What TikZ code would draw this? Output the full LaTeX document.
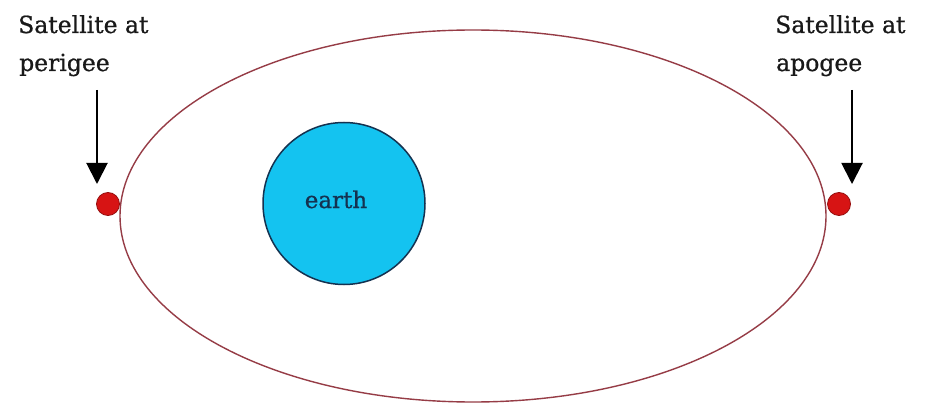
\documentclass[tikz,border=0pt]{standalone}
\usepackage{fontspec}
\setmainfont{DejaVu Serif}
\newfontfamily\lblfont{DejaVu Serif}[FakeBold=0.8]
\usetikzlibrary{arrows.meta}
\definecolor{orbit}{RGB}{150,60,70}
\definecolor{earthblue}{RGB}{20,195,240}
\definecolor{earthline}{RGB}{20,50,80}
\definecolor{satred}{RGB}{215,20,20}
\begin{document}
\begin{tikzpicture}[x=1pt,y=-1pt,
  lbl/.style={anchor=base west,inner sep=0pt,font=\lblfont\fontsize{23.5}{28}\selectfont,text=black!90},
  pointer/.style={line width=2pt,-{Triangle[width=21pt,length=21pt]}},
  sat/.style={circle,fill=satred,draw=satred!70!black,line width=0.8pt,minimum size=23pt,inner sep=0pt},
  ]
\useasboundingbox[fill=white] (0,0) rectangle (926,406);
\draw[orbit,line width=1.4pt] (473,216) ellipse [x radius=353,y radius=186];
\node[circle,fill=earthblue,draw=earthline,line width=1.5pt,minimum size=162pt,inner sep=0pt] (earth) at (344,203.5) {};
\node[anchor=base,inner sep=0pt,font=\lblfont\fontsize{23}{28}\selectfont,text=earthline] (earthlbl) at (336,208) {earth};
\node[sat] (peri) at (108,204) {};
\node[sat] (apo) at (839,204) {};
\node[lbl] (pl1) at (18,33) {Satellite at};
\node[lbl] (pl2) at (19,71) {perigee};
\node[lbl] (al1) at (775,33) {Satellite at};
\node[lbl] (al2) at (776,71) {apogee};
\coordinate (pa) at (97,90);
\coordinate (pb) at (97,184);
\coordinate (aa) at (852,90);
\coordinate (ab) at (852,184);
\draw[pointer] (pa) -- (pb);
\draw[pointer] (aa) -- (ab);
\end{tikzpicture}
\end{document}
